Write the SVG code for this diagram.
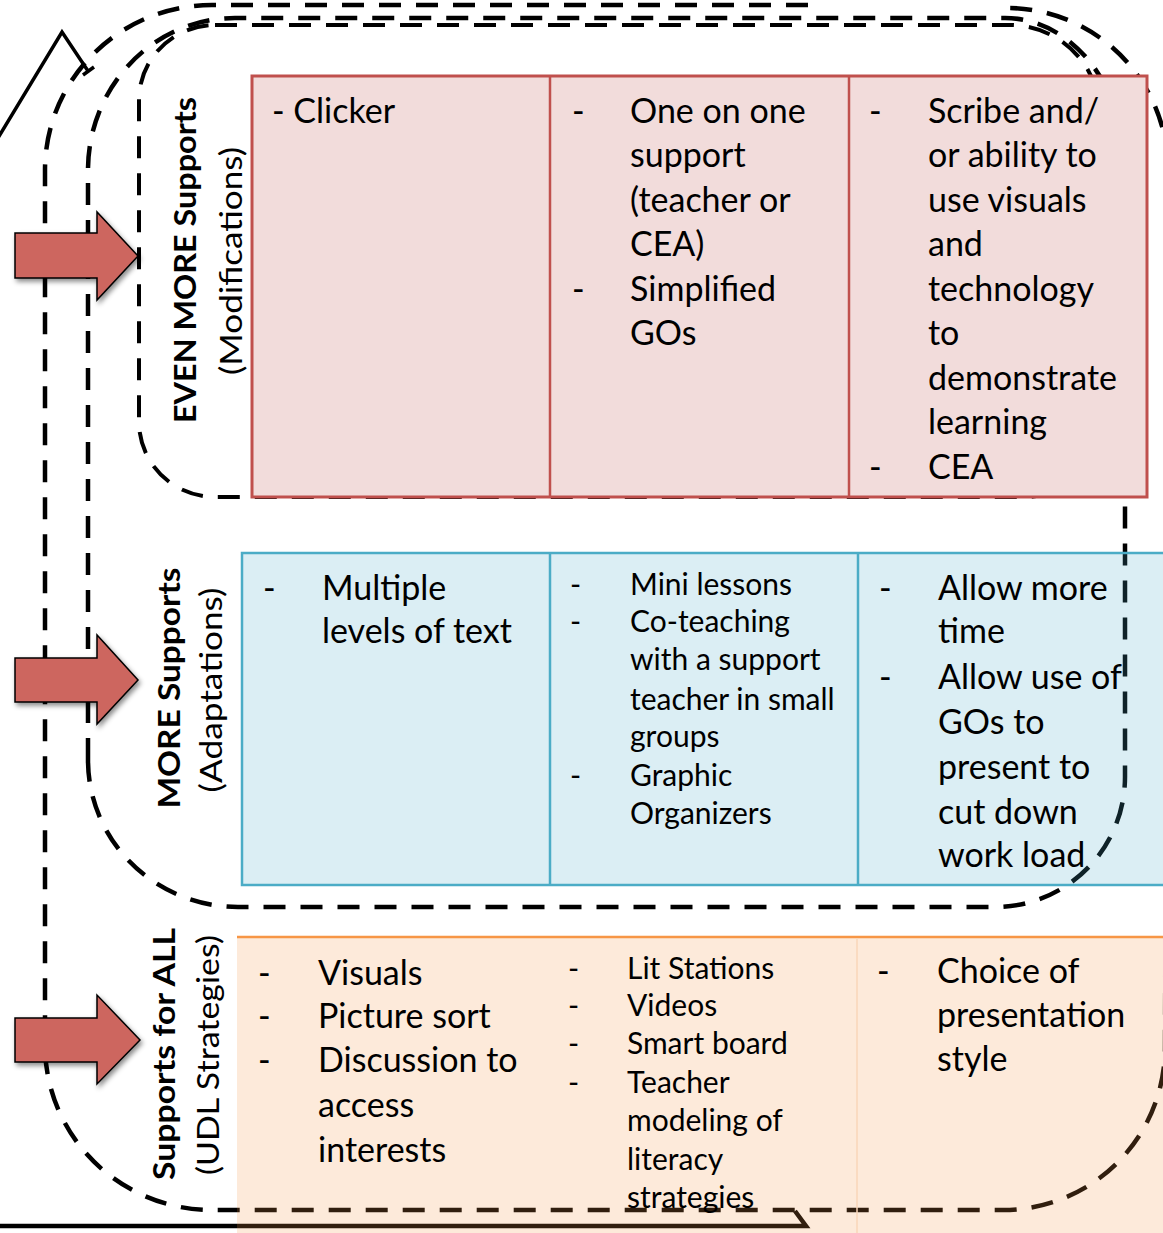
<svg xmlns="http://www.w3.org/2000/svg" width="1163" height="1233" viewBox="0 0 1163 1233">
<style>
.dash{fill:none;stroke:#000;stroke-width:4.5;stroke-dasharray:22 15}
.solid{fill:none;stroke:#000}
.arrow{fill:#cd665f;stroke:#000;stroke-width:1.5;stroke-linejoin:miter}
.t{font-family:Lato,"Liberation Sans",sans-serif;font-size:34px;fill:#000}
.s{font-family:Lato,"Liberation Sans",sans-serif;font-size:30px;fill:#000}
.lb{font-family:Lato,"Liberation Sans",sans-serif;font-size:31px;font-weight:bold;fill:#000}
.lr{font-family:Lato,"Liberation Sans",sans-serif;font-size:31px;fill:#000}
</style>
<defs>
<filter id="sh" x="-20%" y="-20%" width="150%" height="150%">
<feDropShadow dx="2" dy="3" stdDeviation="2.5" flood-color="#000" flood-opacity="0.45"/>
</filter>
</defs>
<rect width="1163" height="1233" fill="#fff"/>

<g id="connectors">
<path id="outline-all" class="dash" d="M808,5 H212 A167 165 0 0 0 45 170 V1045 A167 165 0 0 0 212 1210 H1003 A162 162 0 0 0 1165 1048 L1168,170 A161 162 0 0 0 1007 8"/>
<path id="outline-more" class="dash" d="M88,760 V170 A147 152 0 0 1 235 18 H1005 A120 150 0 0 1 1125 168 V777 A130 130 0 0 1 995 907 H238 A150 147 0 0 1 88 760 Z"/>
<path id="outline-even" class="dash" style="stroke-width:4" d="M215,25 H1010 A90 90 0 0 1 1100 115 V420 A75 75 0 0 1 1025 497 H215 A76 75 0 0 1 139 422 V100 A76 75 0 0 1 215 25 Z"/>
<path id="house-roof" class="solid" style="stroke-width:3.5" d="M-5,143 L62,32 L88,71 M83,75 L94,67"/>
<path id="house-floor" class="solid" style="stroke-width:4.5" d="M0,1226 H806 L795,1211"/>
</g>

<g id="node-even-more">
<rect x="252" y="76" width="895" height="421" fill="#f2dcdb" stroke="#c0504d" stroke-width="3"/>
<line x1="550" y1="76" x2="550" y2="497" stroke="#c0504d" stroke-width="2.5"/>
<line x1="849" y1="76" x2="849" y2="497" stroke="#c0504d" stroke-width="2.5"/>
<text class="t" x="272" y="123">- Clicker</text>
<text class="t"><tspan x="572" y="123">-</tspan><tspan x="572" y="301">-</tspan></text>
<text class="t"><tspan x="630" y="123">One on one</tspan><tspan x="630" y="167">support</tspan><tspan x="630" y="212">(teacher or</tspan><tspan x="630" y="256">CEA)</tspan><tspan x="630" y="301">Simplified</tspan><tspan x="630" y="345">GOs</tspan></text>
<text class="t"><tspan x="869" y="123">-</tspan><tspan x="869" y="479">-</tspan></text>
<text class="t"><tspan x="928" y="123">Scribe and/</tspan><tspan x="928" y="167">or ability to</tspan><tspan x="928" y="212">use visuals</tspan><tspan x="928" y="256">and</tspan><tspan x="928" y="301">technology</tspan><tspan x="928" y="345">to</tspan><tspan x="928" y="390">demonstrate</tspan><tspan x="928" y="434">learning</tspan><tspan x="928" y="479">CEA</tspan></text>
</g>

<g id="node-more">
<rect x="242" y="553" width="930" height="332" fill="#4bacc6" fill-opacity="0.2" stroke="#4bacc6" stroke-width="2.5"/>
<line x1="550" y1="553" x2="550" y2="885" stroke="#4bacc6" stroke-width="2.5"/>
<line x1="858" y1="553" x2="858" y2="885" stroke="#4bacc6" stroke-width="2.5"/>
<text class="t"><tspan x="263" y="600">-</tspan></text>
<text class="t"><tspan x="322" y="600">Multiple</tspan><tspan x="322" y="643">levels of text</tspan></text>
<text class="s"><tspan x="570" y="595">-</tspan><tspan x="570" y="632">-</tspan><tspan x="570" y="786">-</tspan></text>
<text class="s"><tspan x="630" y="595">Mini lessons</tspan><tspan x="630" y="632">Co-teaching</tspan><tspan x="630" y="670">with a support</tspan><tspan x="630" y="710">teacher in small</tspan><tspan x="630" y="747">groups</tspan><tspan x="630" y="786">Graphic</tspan><tspan x="630" y="824">Organizers</tspan></text>
<text class="t"><tspan x="879" y="600">-</tspan><tspan x="879" y="689">-</tspan></text>
<text class="t"><tspan x="938" y="600">Allow more</tspan><tspan x="938" y="643">time</tspan><tspan x="938" y="689">Allow use of</tspan><tspan x="938" y="734">GOs to</tspan><tspan x="938" y="779">present to</tspan><tspan x="938" y="824">cut down</tspan><tspan x="938" y="867">work load</tspan></text>
</g>

<g id="node-all">
<rect x="237" y="937" width="935" height="300" fill="#f79646" fill-opacity="0.2"/>
<line x1="237" y1="937" x2="1172" y2="937" stroke="#f79646" stroke-width="2.5"/>
<line x1="857" y1="938" x2="857" y2="1233" stroke="#f9d6b8" stroke-width="1.5"/>
<text class="t"><tspan x="258" y="985">-</tspan><tspan x="258" y="1028">-</tspan><tspan x="258" y="1072">-</tspan></text>
<text class="t"><tspan x="318" y="985">Visuals</tspan><tspan x="318" y="1028">Picture sort</tspan><tspan x="318" y="1072">Discussion to</tspan><tspan x="318" y="1117">access</tspan><tspan x="318" y="1162">interests</tspan></text>
<text class="s"><tspan x="568" y="979">-</tspan><tspan x="568" y="1016">-</tspan><tspan x="568" y="1054">-</tspan><tspan x="568" y="1093">-</tspan></text>
<text class="s"><tspan x="627" y="979">Lit Stations</tspan><tspan x="627" y="1016">Videos</tspan><tspan x="627" y="1054">Smart board</tspan><tspan x="627" y="1093">Teacher</tspan><tspan x="627" y="1131">modeling of</tspan><tspan x="627" y="1170">literacy</tspan><tspan x="627" y="1208">strategies</tspan></text>
<text class="t"><tspan x="877" y="983">-</tspan></text>
<text class="t"><tspan x="937" y="983">Choice of</tspan><tspan x="937" y="1027">presentation</tspan><tspan x="937" y="1071">style</tspan></text>
</g>

<g id="labels">
<text class="lb" x="196" y="260" text-anchor="middle" textLength="326" lengthAdjust="spacingAndGlyphs" transform="rotate(-90 196 260)">EVEN MORE Supports</text>
<text class="lr" x="242" y="261" text-anchor="middle" textLength="228" lengthAdjust="spacingAndGlyphs" transform="rotate(-90 242 261)">(Modifications)</text>
<text class="lb" x="180" y="688" text-anchor="middle" textLength="241" lengthAdjust="spacingAndGlyphs" transform="rotate(-90 180 688)">MORE Supports</text>
<text class="lr" x="222" y="690" text-anchor="middle" textLength="205" lengthAdjust="spacingAndGlyphs" transform="rotate(-90 222 690)">(Adaptations)</text>
<text class="lb" x="175" y="1054" text-anchor="middle" textLength="252" lengthAdjust="spacingAndGlyphs" transform="rotate(-90 175 1054)">Supports for ALL</text>
<text class="lr" x="219" y="1055" text-anchor="middle" textLength="240" lengthAdjust="spacingAndGlyphs" transform="rotate(-90 219 1055)">(UDL Strategies)</text>
</g>

<g id="arrows">
<path id="arrow-even-more" class="arrow" filter="url(#sh)" d="M15,233 H97 V212 L138,256 L97,300 V278 H15 Z"/>
<path id="arrow-more" class="arrow" filter="url(#sh)" d="M15,658 H97 V635 L138,680 L97,724 V702 H15 Z"/>
<path id="arrow-all" class="arrow" filter="url(#sh)" d="M15,1018 H97 V995 L140,1040 L97,1084 V1062 H15 Z"/>
</g>
</svg>
